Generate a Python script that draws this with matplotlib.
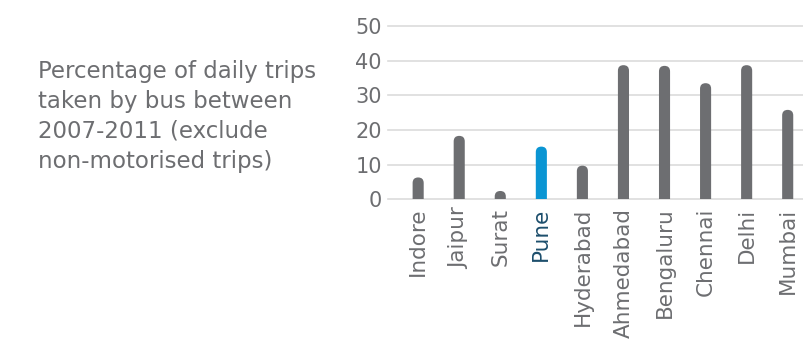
import matplotlib
matplotlib.use("Agg")
import matplotlib.pyplot as plt
from matplotlib.patches import FancyBboxPatch

cities = ["Indore", "Jaipur", "Surat", "Pune", "Hyderabad", "Ahmedabad",
          "Bengaluru", "Chennai", "Delhi", "Mumbai"]
values = [6.3, 18.3, 2.4, 15.2, 9.7, 38.7, 38.5, 33.5, 38.7, 25.8]
highlight = "Pune"
yticks = [0, 10, 20, 30, 40, 50]
title = "Percentage of daily trips\ntaken by bus between\n2007-2011 (exclude\nnon-motorised trips)"

GREY = "#6d6e71"
BLUE = "#0a95d3"
DARKBLUE = "#1c4e6c"
TXT = "#6d6e71"
FONT = ["DejaVu Sans"]

plt.rcParams["font.family"] = FONT

fig = plt.figure(figsize=(8.04, 3.5), dpi=100)
ax = fig.add_axes([0.482, 0.4306, 1.0 - 0.482, 0.9257 - 0.4306])
ax.set_xlim(-0.746, 9.397)
ax.set_ylim(0, 50)

bw = 0.27
for i, (c, v) in enumerate(zip(cities, values)):
    col = BLUE if c == highlight else GREY
    p = FancyBboxPatch((i - bw / 2, -5), bw, v + 5,
                       boxstyle="round,pad=0,rounding_size=%f" % (bw / 2),
                       mutation_aspect=11.8, facecolor=col, edgecolor="none",
                       zorder=3)
    ax.add_patch(p)

ax.set_yticks(yticks)
ax.set_yticklabels([str(t) for t in yticks])
ax.set_xticks(range(len(cities)))
ax.set_xticklabels(cities, rotation=90, va="top", ha="center")
ax.tick_params(axis="both", length=0, colors=TXT)
ax.tick_params(axis="x", pad=6, labelsize=15.5)
ax.tick_params(axis="y", pad=4, labelsize=15)
for lab in ax.get_xticklabels():
    if lab.get_text() == highlight:
        lab.set_color(DARKBLUE)
for s in ax.spines.values():
    s.set_visible(False)
ax.yaxis.grid(True, color="#dcdcdc", linewidth=1.2, zorder=0)
ax.set_axisbelow(True)
for gl in ax.get_ygridlines():
    gl.set_clip_on(False)

fig.text(38 / 804, 1 - 60 / 350, title, ha="left", va="top", fontsize=16.5,
         color=TXT, linespacing=1.38)

fig.savefig("out.png", dpi=100)
